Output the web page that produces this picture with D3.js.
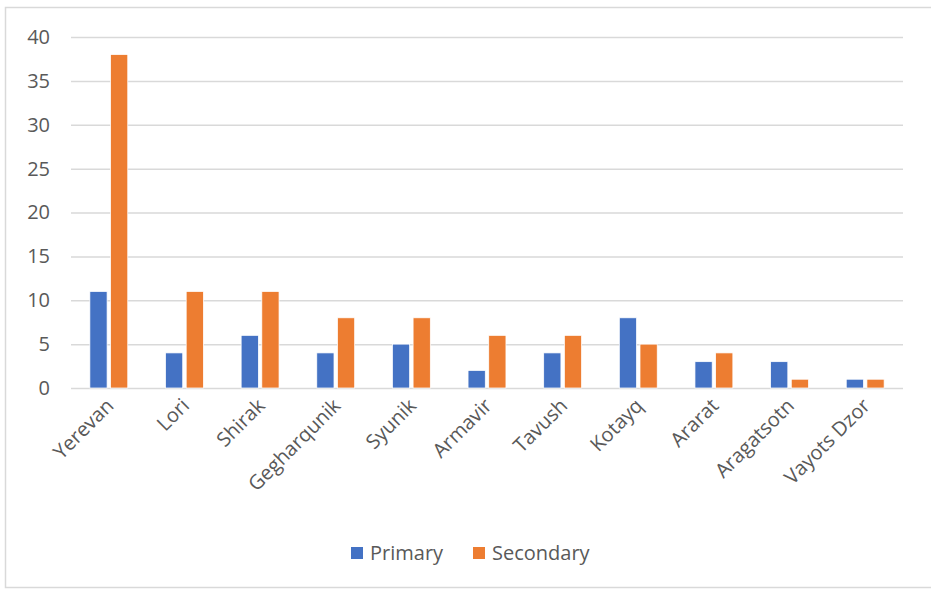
<!DOCTYPE html>
<html lang="en">
  <head>
    <meta charset="utf-8">
    <title>Primary / Secondary by region</title>
    <script src="https://cdn.jsdelivr.net/npm/d3@7"></script>
    <style>
      body { margin: 0; background: #fff; overflow: hidden; }
      text { font-family: "Open Sans", "Noto Sans", sans-serif; fill: #595959; }
    </style>
  </head>
  <body>
    <script>
      /* data */
      const regions = ["Yerevan", "Lori", "Shirak", "Gegharqunik", "Syunik", "Armavir",
                       "Tavush", "Kotayq", "Ararat", "Aragatsotn", "Vayots Dzor"];
      const primary = [11, 4, 6, 4, 5, 2, 4, 8, 3, 3, 1];
      const secondary = [38, 11, 11, 8, 8, 6, 6, 5, 4, 1, 1];
      const series_names = ["Primary", "Secondary"];
      const y_ticks = [0, 5, 10, 15, 20, 25, 30, 35, 40];

      const COLORS = ["#4472C4", "#ED7D31"];
      const GRID = "#d9d9d9";
      const FONT_SIZE = 20;

      /* layout */
      const W = 931, H = 591;
      const PLOT_LEFT = 71, PLOT_RIGHT = 903;
      const PLOT_TOP = 37, PLOT_BOTTOM = 388;

      let svg = d3.select("body").append("svg")
        .attr("width", W)
        .attr("height", H);

      // chart frame (right edge runs off the picture)
      svg.append("rect")
        .attr("x", 5.5).attr("y", 7.5)
        .attr("width", 960).attr("height", 580)
        .attr("fill", "none")
        .attr("stroke", GRID)
        .attr("stroke-width", 1.5);

      let x0 = d3.scaleBand()
        .domain(regions)
        .range([PLOT_LEFT, PLOT_RIGHT])
        .paddingInner(0).paddingOuter(0);

      let y = d3.scaleLinear()
        .domain([0, 40])
        .range([PLOT_BOTTOM, PLOT_TOP]);

      // bar width from excel-ish gap width 219%, overlap -20%
      const bw = x0.bandwidth() / 4.39;
      let x1 = d3.scaleOrdinal()
        .domain(series_names)
        .range([-1.1 * bw, 0.1 * bw]);

      /* gridlines */
      let y_axis = d3.axisLeft(y)
        .tickValues(y_ticks)
        .tickSize(-(PLOT_RIGHT - PLOT_LEFT))
        .tickPadding(21);

      let g_y = svg.append("g")
        .attr("transform", "translate(" + PLOT_LEFT + ",0)")
        .call(y_axis);
      g_y.select(".domain").remove();
      g_y.selectAll(".tick line")
        .attr("stroke", GRID)
        .attr("stroke-width", 1.5);
      g_y.selectAll(".tick text")
        .attr("font-size", FONT_SIZE)
        .attr("fill", "#595959")
        .attr("font-family", "\"Open Sans\", \"Noto Sans\", sans-serif");

      /* bars */
      let table = regions.map((r, i) => ({region: r, values: [primary[i], secondary[i]]}));

      let groups = svg.append("g").selectAll("g")
        .data(table)
        .join("g")
        .attr("transform", d => "translate(" + (x0(d.region) + x0.bandwidth() / 2) + ",0)");

      groups.selectAll("rect")
        .data(d => d.values.map((v, k) => ({name: series_names[k], value: v, k: k})))
        .join("rect")
        .attr("x", d => x1(d.name))
        .attr("y", d => y(d.value))
        .attr("width", bw)
        .attr("height", d => y(0) - y(d.value))
        .attr("fill", d => COLORS[d.k])
        .attr("stroke", "#fff")
        .attr("stroke-width", 0.75);

      /* category labels */
      let g_x = svg.append("g");
      g_x.selectAll("text")
        .data(regions)
        .join("text")
        .attr("text-anchor", "end")
        .attr("font-size", FONT_SIZE)
        .attr("transform", d => "translate(" + (x0(d) + x0.bandwidth() / 2 + 6) + "," + (PLOT_BOTTOM + 19) + ") rotate(-45)")
        .text(d => d);

      /* legend */
      const legend_x = [351, 473];
      let legend = svg.append("g").selectAll("g")
        .data(series_names)
        .join("g")
        .attr("transform", (d, i) => "translate(" + legend_x[i] + ",547)");
      legend.append("rect")
        .attr("width", 12).attr("height", 12)
        .attr("fill", (d, i) => COLORS[i]);
      legend.append("text")
        .attr("x", 19).attr("y", 6)
        .attr("dy", "0.35em")
        .attr("font-size", FONT_SIZE)
        .text(d => d);
    </script>
  </body>
</html>
